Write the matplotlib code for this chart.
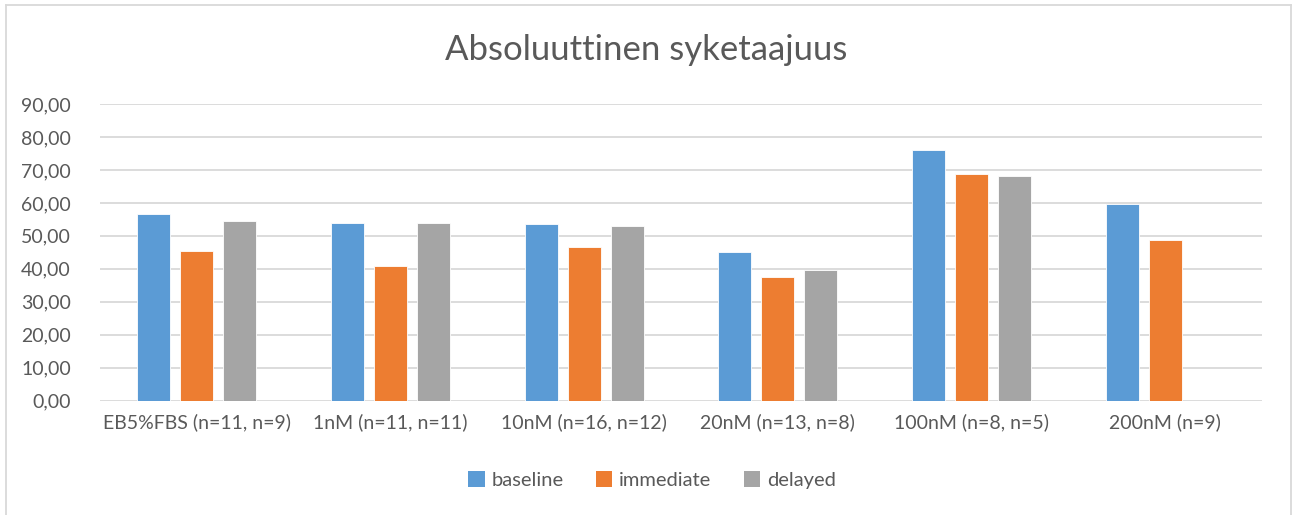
import numpy as np
import matplotlib.pyplot as plt
from matplotlib.lines import Line2D
from matplotlib.patches import Patch
from matplotlib.ticker import FuncFormatter, MultipleLocator

categories = ["EB5%FBS (n=11, n=9)", "1nM (n=11, n=11)", "10nM (n=16, n=12)",
              "20nM (n=13, n=8)", "100nM (n=8, n=5)", "200nM (n=9)"]
baseline = [56.6, 54.0, 53.6, 45.0, 76.1, 59.8]
immediate = [45.3, 40.8, 46.5, 37.5, 68.7, 48.7]
delayed = [54.5, 53.8, 53.0, 39.6, 68.2, np.nan]

series = [("baseline", baseline, "#5b9bd5"),
          ("immediate", immediate, "#ed7d31"),
          ("delayed", delayed, "#a5a5a5")]

plt.rcParams['font.family'] = ['Lato', 'DejaVu Sans']
text_col = "#595959"

fig = plt.figure(figsize=(12.92, 5.15), dpi=100)
W, H = 1292, 515
ax = fig.add_axes([100 / W, (H - 400.7) / H, 1162 / W, (400.7 - 104) / H])

x = np.arange(len(categories))
width = 0.172
pitch = 0.222
for i, (name, vals, col) in enumerate(series):
    ax.bar(x + (i - 1) * pitch, vals, width, color=col, edgecolor="white",
           linewidth=0.6, label=name, zorder=3)

ax.set_xlim(-0.5, len(categories) - 0.5)
ax.set_ylim(0, 90)
ax.yaxis.set_major_locator(MultipleLocator(10))
ax.yaxis.set_major_formatter(FuncFormatter(lambda v, p: f"{v:.2f}".replace(".", ",")))
ax.grid(axis="y", color="#d9d9d9", linewidth=1.3, zorder=0)
ax.set_xticks(x)
ax.set_xticklabels(categories)
for s in ax.spines.values():
    s.set_visible(False)
ax.tick_params(axis="both", length=0, colors=text_col, labelsize=14)
ax.tick_params(axis="y", pad=21)
ax.tick_params(axis="x", pad=9)

fig.text(0.5, (H - 50) / H, "Absoluuttinen syketaajuus", ha="center", va="center",
         fontsize=25, color=text_col)

handles = [Patch(facecolor=c, label=n) for n, _, c in series]
fig.legend(handles=handles, loc="center", bbox_to_anchor=(652 / W, (H - 480) / H),
           ncol=3, frameon=False, fontsize=14.5, labelcolor=text_col,
           handlelength=0.8, handleheight=0.8, handletextpad=0.35, columnspacing=1.6)

# light frame around the chart (bottom edge runs off the image)
frame = dict(transform=fig.transFigure, color="#d9d9d9", linewidth=1.3)
fig.add_artist(Line2D([6 / W, 6 / W], [0, (H - 5) / H], **frame))
fig.add_artist(Line2D([6 / W, 1290.5 / W], [(H - 5) / H, (H - 5) / H], **frame))
fig.add_artist(Line2D([1290.5 / W, 1290.5 / W], [0, (H - 5) / H], **frame))

fig.savefig("out.png", dpi=100)
